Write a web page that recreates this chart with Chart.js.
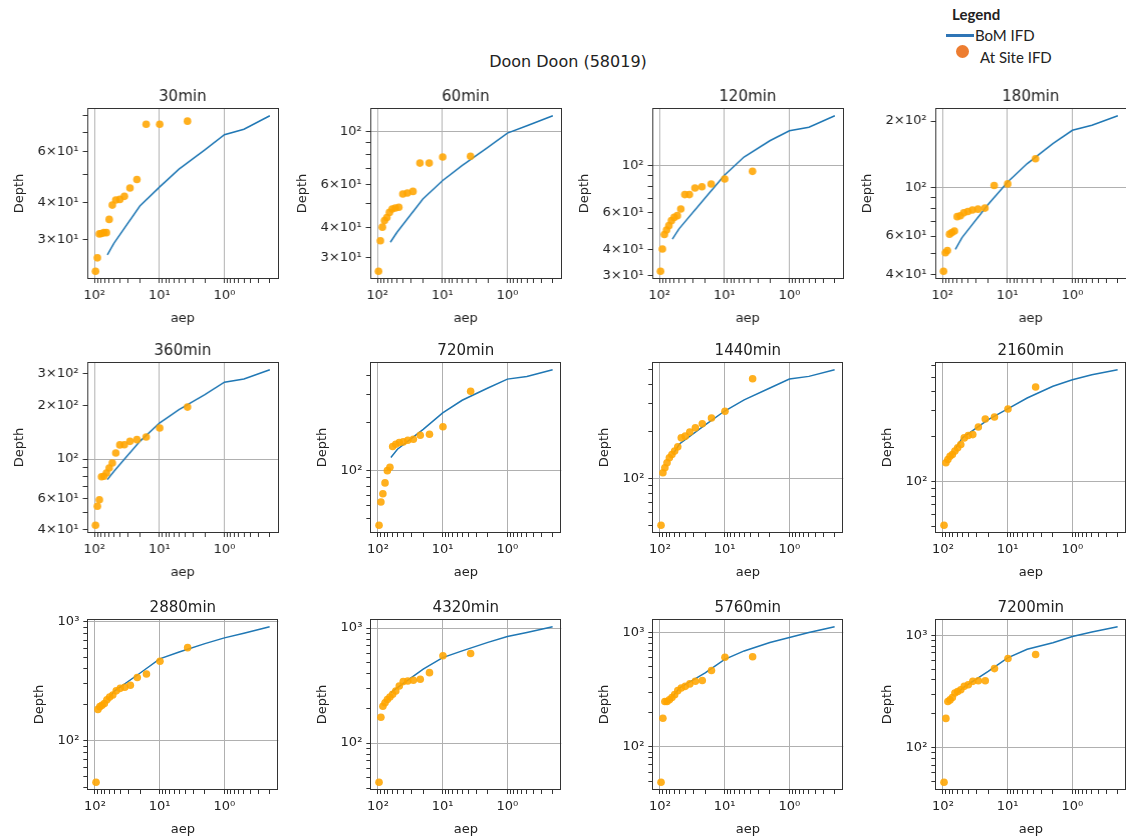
<!DOCTYPE html>
<html>
<head>
<meta charset="utf-8">
<script src="https://cdn.jsdelivr.net/npm/chart.js@4.4.1/dist/chart.umd.min.js"></script>
<style>
  body { margin: 0; background: #fff; width: 1126px; height: 836px; position: relative; overflow: hidden; font-family: "DejaVu Sans", sans-serif; }
  .panel { position: absolute; }
  #suptitle { position: absolute; left: 0; width: 1136px; top: 52px; text-align: center; font-size: 16px; color: #222; }
  .lg { position: absolute; font-family: Lato, "Open Sans", sans-serif; color: #222; white-space: nowrap; }
</style>
</head>
<body>
<div id="suptitle">Doon Doon (58019)</div>
<div class="lg" style="left:952px; top:5px; font-size:15px; font-weight:bold;">Legend</div>
<div class="lg" style="left:946px; top:34px; width:28px; height:3px; background:#2e75b6;"></div>
<div class="lg" style="left:975px; top:26px; font-size:15px;">BoM IFD</div>
<div class="lg" style="left:956px; top:45px; width:13px; height:13px; border-radius:50%; background:#ed7d31;"></div>
<div class="lg" style="left:980px; top:48px; font-size:15px;">At Site IFD</div>
<script>
// durations (one panel each)
const durations = ['30min', '60min', '120min', '180min', '360min', '720min',
                   '1440min', '2160min', '2880min', '4320min', '5760min', '7200min'];

// AEP (%) of the BoM IFD curve and of the at-site plotting positions
const bomAep = [63.2, 50, 20, 10, 5, 2, 1, 0.5, 0.2];
const siteAep = [3.7, 9.9, 16.0, 22.2, 28.4, 34.6, 40.7, 46.9, 53.1, 59.3, 65.4, 71.6, 77.8, 84.0, 90.1, 96.3];

// BoM IFD depths (mm), one array per duration
const bom30 = [26.5, 29.1, 39.0, 45.3, 52.2, 60.8, 68.5, 71.6, 79.6];
const bom60 = [34.6, 38.1, 52.4, 62.5, 72.2, 86.1, 98.7, 105.9, 116.6];
const bom120 = [44.7, 50, 70, 90, 110, 131.5, 146.8, 152.5, 173];
const bom180 = [52.2, 59.0, 83.3, 105.4, 127.9, 157.9, 181.7, 191.6, 211.5];
const bom360 = [76.6, 85.3, 125.6, 159.2, 189.2, 229.5, 270, 281, 316.8];
const bom720 = [121.2, 136.6, 182.2, 231.5, 277.8, 331.8, 377.5, 392.3, 432.3];
const bom1440 = [142.3, 166, 220, 270, 318, 379, 433, 450, 496];
const bom2160 = [168.6, 196.5, 260.1, 306.8, 363, 434.8, 481.5, 519.9, 561];
const bom2880 = [222, 261, 370, 486, 555, 653, 730, 800, 905];
const bom4320 = [273.8, 302.8, 438.8, 553, 633, 750, 845, 915, 1025];
const bom5760 = [276, 327, 443, 581, 689, 816, 903, 1000, 1120];
const bom7200 = [295, 339, 478, 630, 750, 859, 975, 1070, 1190];

// at-site IFD depths (mm), ordered like siteAep
const site30 = [76.3, 74.4, 74.4, 48.1, 45.0, 42.1, 41.1, 40.9, 39.3, 35.1, 31.6, 31.6, 31.4, 31.3, 25.9, 23.3];
const site60 = [79, 78.5, 74.0, 74.0, 56.4, 55.5, 55.0, 48.4, 48.1, 47.6, 46.1, 43.9, 42.6, 40.0, 35.1, 26.2];
const site120 = [94.0, 86.4, 81.8, 79.4, 78.3, 72.8, 72.8, 62.2, 57.8, 56.7, 54.7, 51.8, 49.4, 47.0, 40.1, 31.4];
const site180 = [134.8, 103.6, 101.8, 80.4, 79.5, 78.8, 77.6, 76.5, 74.2, 73.5, 63.3, 62.2, 61.2, 51.6, 50.4, 41.5];
const site360 = [195.6, 149.2, 132.8, 128.4, 125.6, 120.3, 120, 108, 95, 89, 83.5, 80.0, 79.5, 59.1, 54.3, 42.5];
const site720 = [316.2, 189.3, 169.5, 167.1, 157.7, 155.4, 151.8, 150.3, 146.8, 141.9, 104.9, 100, 83.7, 71.5, 63.4, 45.3];
const site1440 = [434.8, 269.0, 243.7, 224, 210.6, 197.8, 186.3, 181.8, 159.2, 149.5, 142.3, 135.5, 125.9, 117.0, 108.7, 50.1];
const site2160 = [430.3, 306.8, 271, 263, 232.6, 206.8, 203.7, 196.5, 177.3, 168.6, 160.3, 152.1, 148.2, 140.9, 133.9, 51.2];
const site2880 = [604, 465, 363, 339, 292, 281, 275, 262, 242, 232, 220, 205, 198, 193, 183, 44.7];
const site4320 = [600, 573, 409, 358, 351, 346, 342, 313, 283, 265, 251, 239, 224, 209, 167.6, 45.6];
const site5760 = [612, 606, 465, 380, 374, 355, 338, 327, 310, 286, 270, 258, 249, 249, 178, 49.1];
const site7200 = [675, 621, 505, 394, 394, 389, 363, 351, 327, 316, 306, 279, 266, 257, 182, 49.2];

const bomDepth = [bom30, bom60, bom120, bom180, bom360, bom720, bom1440, bom2160, bom2880, bom4320, bom5760, bom7200];
const siteDepth = [site30, site60, site120, site180, site360, site720, site1440, site2160, site2880, site4320, site5760, site7200];

// plot box placement
const colLeft = [87, 370, 652, 935];
const rowTop = [108, 362, 619];
const boxW = 191, boxH = 171;

Chart.defaults.font.family = '"DejaVu Sans", sans-serif';
Chart.defaults.color = '#222';

const SUP = { '-': '\u207b', '0': '\u2070', '1': '\u00b9', '2': '\u00b2', '3': '\u00b3', '4': '\u2074' };

// matplotlib-like 5% margins on a log axis
function logLimits(values) {
  const lo = Math.log10(Math.min(...values)), hi = Math.log10(Math.max(...values));
  const m = (hi - lo) * 0.05;
  return [10 ** (lo - m), 10 ** (hi + m)];
}

function logTicks(min, max) {
  const out = [];
  for (let d = Math.floor(Math.log10(min)); d <= Math.ceil(Math.log10(max)); d++) {
    for (let k = 1; k <= 9; k++) {
      const v = k * 10 ** d;
      if (v >= min && v <= max) out.push({ value: v, major: k === 1 });
    }
  }
  return out;
}

function isDecade(v) {
  if (v === undefined) return false;
  const l = Math.log10(v);
  return Math.abs(l - Math.round(l)) < 1e-6;
}

function sciLabel(v, showMinor) {
  const d = Math.floor(Math.log10(v) + 1e-9);
  const k = Math.round(v / 10 ** d);
  const exp = String(d).split('').map(c => SUP[c]).join('');
  if (k === 1) return '10' + exp;
  if (showMinor && [2, 3, 4, 6].includes(k)) return k + '\u00d710' + exp;
  return '';
}

const framePlugin = {
  id: 'frame',
  afterDraw(chart, args, opts) {
    const { ctx, chartArea: a } = chart;
    ctx.save();
    ctx.strokeStyle = '#333';
    ctx.lineWidth = 1;
    ctx.strokeRect(Math.round(a.left) + 0.5, Math.round(a.top) + 0.5,
                   Math.round(a.right - a.left) - 1, Math.round(a.bottom - a.top) - 1);
    ctx.fillStyle = '#222';
    ctx.font = '15px "DejaVu Sans"';
    ctx.textAlign = 'center';
    ctx.textBaseline = 'alphabetic';
    ctx.fillText(opts.text, (a.left + a.right) / 2, a.top - 7);
    ctx.restore();
  }
};

const [xMin, xMax] = logLimits(bomAep.concat(siteAep));

function gridOpts() {
  return {
    color: c => isDecade(c.tick && c.tick.value) ? '#b0b0b0' : 'rgba(0,0,0,0)',
    lineWidth: 1,
    tickColor: '#333',
    tickLength: 4,
    drawTicks: true
  };
}

durations.forEach((name, i) => {
  const L = colLeft[i % 4], T = rowTop[Math.floor(i / 4)];
  const bom = bomDepth[i], site = siteDepth[i];
  const [yMin, yMax] = logLimits(bom.concat(site));
  const showMinor = Math.log10(yMax / yMin) <= 1;

  const wrap = document.createElement('div');
  wrap.className = 'panel';
  let w = boxW + 95, h = boxH + 75;
  wrap.style.width = w + 'px';
  wrap.style.height = h + 'px';
  wrap.style.left = (L - 90) + 'px';
  wrap.style.top = (T - 28) + 'px';
  const canvas = document.createElement('canvas');
  wrap.appendChild(canvas);
  document.body.appendChild(wrap);

  const chart = new Chart(canvas, {
    type: 'scatter',
    data: {
      datasets: [
        {
          label: 'At Site IFD',
          data: siteAep.map((a, j) => ({ x: a, y: site[j] })),
          backgroundColor: 'rgba(255,165,0,0.88)',
          borderWidth: 0,
          pointRadius: 3.8
        },
        {
          label: 'BoM IFD',
          data: bomAep.map((a, j) => ({ x: a, y: bom[j] })),
          showLine: true,
          borderColor: '#1f77b4',
          borderWidth: 1.5,
          pointRadius: 0,
          tension: 0
        }
      ]
    },
    options: {
      responsive: true,
      maintainAspectRatio: false,
      animation: false,
      events: [],
      layout: { padding: { top: 24, right: 2, left: 0, bottom: 0 } },
      plugins: { legend: { display: false }, tooltip: { enabled: false }, frame: { text: name } },
      scales: {
        x: {
          type: 'logarithmic',
          reverse: true,
          min: xMin, max: xMax,
          bounds: 'data',
          afterBuildTicks: s => { s.ticks = logTicks(s.min, s.max); },
          ticks: { autoSkip: false, maxRotation: 0, padding: 5, font: { size: 13 },
                   callback: v => sciLabel(v, false) },
          grid: gridOpts(),
          border: { display: false },
          title: { display: true, text: 'aep', font: { size: 13 }, padding: { top: 2, bottom: 0 } }
        },
        y: {
          type: 'logarithmic',
          min: yMin, max: yMax,
          bounds: 'data',
          afterBuildTicks: s => { s.ticks = logTicks(s.min, s.max); },
          ticks: { autoSkip: false, padding: 4, font: { size: 13 },
                   callback: v => sciLabel(v, showMinor) },
          grid: gridOpts(),
          border: { display: false },
          title: { display: true, text: 'Depth', font: { size: 13 }, padding: { top: 0, bottom: 6 } }
        }
      }
    },
    plugins: [framePlugin]
  });

  // size the canvas so the plot box matches, then place it
  const a = chart.chartArea;
  w += boxW - (a.right - a.left);
  h += boxH - (a.bottom - a.top);
  wrap.style.width = w + 'px';
  wrap.style.height = h + 'px';
  chart.resize();
  const b = chart.chartArea;
  wrap.style.left = (L - b.left) + 'px';
  wrap.style.top = (T - b.top) + 'px';
});
</script>
</body>
</html>
